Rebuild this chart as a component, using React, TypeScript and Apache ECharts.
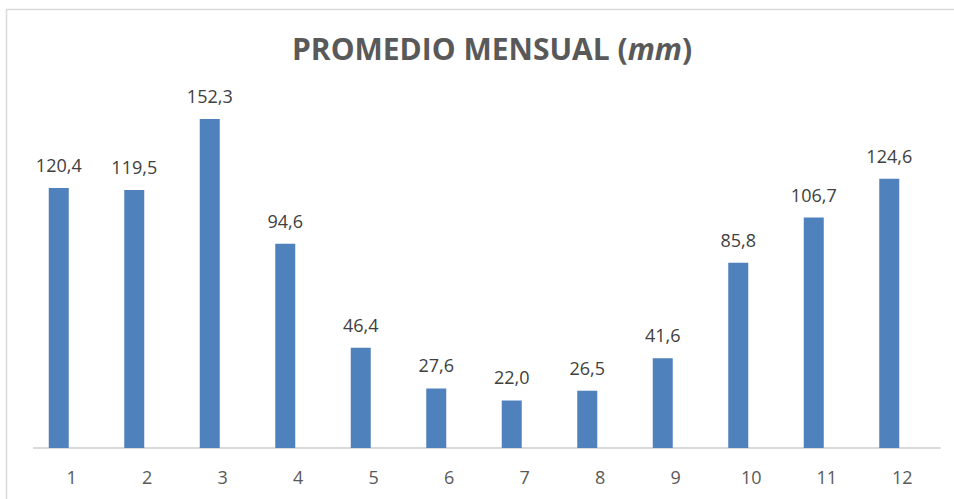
import React, { useEffect, useRef } from "react";
import * as echarts from "echarts";

const months = ["1", "2", "3", "4", "5", "6", "7", "8", "9", "10", "11", "12"];
const rainfall = [120.4, 119.5, 152.3, 94.6, 46.4, 27.6, 22.0, 26.5, 41.6, 85.8, 106.7, 124.6];
const emptySeries: (number | null)[] = months.map(() => null);

export default function App() {
  const ref = useRef<HTMLDivElement>(null);
  useEffect(() => {
    if (!ref.current) return;
    const chart = echarts.init(ref.current, null, { renderer: "svg" });
    chart.setOption({
      animation: false,
      backgroundColor: "#ffffff",
      graphic: [
        {
          type: "rect",
          shape: { x: 6.5, y: 9.5, width: 980, height: 520 },
          style: { fill: "none", stroke: "#D9D9D9", lineWidth: 1.5 },
          silent: true,
        },
      ],
      title: {
        text: "PROMEDIO MENSUAL ({i|mm})",
        left: 287,
        top: 28,
        textStyle: {
          fontFamily: "'Open Sans', sans-serif",
          fontSize: 30,
          fontWeight: "bold",
          color: "#595959",
          rich: {
            i: {
              fontFamily: "'Open Sans', sans-serif",
              fontSize: 30,
              fontWeight: "bold",
              fontStyle: "italic",
              color: "#595959",
            },
          },
        },
      },
      grid: { left: 34, right: 14, top: 102.4, bottom: 51, containLabel: false },
      xAxis: {
        type: "category",
        data: months,
        axisLine: { lineStyle: { color: "#D9D9D9", width: 2 } },
        axisTick: { show: false },
        axisLabel: {
          color: "#595959",
          fontSize: 18,
          fontFamily: "'Open Sans', sans-serif",
          margin: 20,
        },
      },
      yAxis: {
        type: "value",
        min: 0,
        max: 160,
        show: false,
        splitLine: { show: false },
      },
      series: [
        {
          type: "bar",
          data: rainfall,
          barWidth: 20,
          barGap: "30%",
          itemStyle: { color: "#4F81BD" },
          label: {
            show: true,
            position: "top",
            distance: 14,
            color: "#404040",
            fontSize: 18,
            fontFamily: "'Open Sans', sans-serif",
            formatter: (p: any) => p.value.toFixed(1).replace(".", ","),
          },
        },
        {
          type: "bar",
          data: emptySeries,
          barWidth: 20,
          itemStyle: { color: "#C0504D" },
        },
      ],
    });
    return () => chart.dispose();
  }, []);
  return (
    <div
      ref={ref}
      style={{ position: "fixed", left: 0, top: 0, width: 954, height: 499 }}
    />
  );
}
